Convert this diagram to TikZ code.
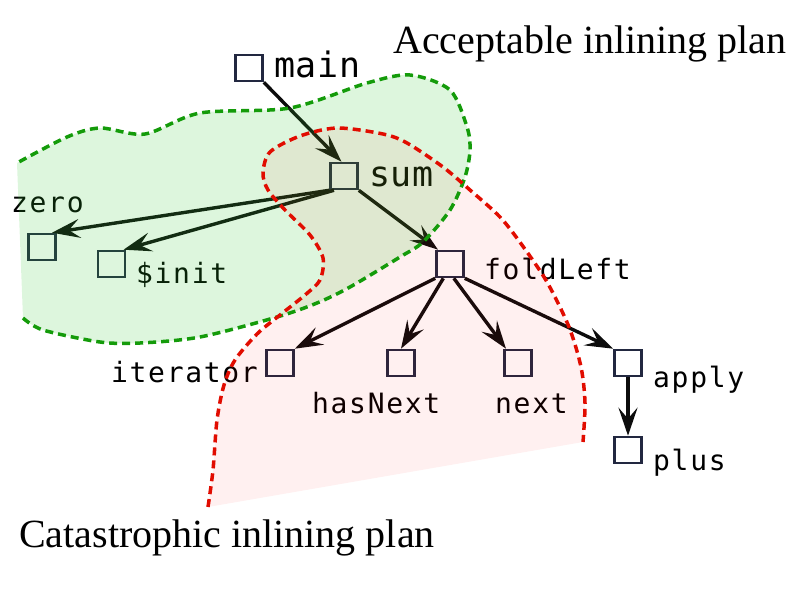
\documentclass[tikz,border=0pt]{standalone}
\usepackage{fontspec}
\setmainfont{Liberation Serif}
\newfontfamily\monofnt[LetterSpace=6]{DejaVu Sans Mono}
\newfontfamily\monobig[LetterSpace=2]{DejaVu Sans Mono}
\usetikzlibrary{arrows.meta}
\definecolor{boxcol}{RGB}{34,40,64}
\definecolor{arrowcol}{RGB}{12,12,12}
\definecolor{greenline}{RGB}{20,155,10}
\definecolor{redline}{RGB}{225,12,0}
\definecolor{greenfill}{RGB}{51,204,51}
\definecolor{redfill}{RGB}{255,0,0}
\tikzset{
  fnode/.style={draw=boxcol, line width=2.6pt, minimum width=27pt, minimum height=26pt, inner sep=0pt},
  lbl/.style={anchor=base west, inner sep=0pt, font=\monofnt\fontsize{28}{30}\selectfont},
  biglbl/.style={anchor=base west, inner sep=0pt, font=\monobig\fontsize{35}{40}\selectfont},
  conn/.style={line width=3.4pt, draw=arrowcol, -{Stealth[length=28pt,width=19pt,inset=11pt]}},
  titletext/.style={anchor=base west, inner sep=0pt, font=\fontsize{40}{48}\selectfont},
  region/.style={line width=3.5pt, dash pattern=on 8pt off 5pt}}
\begin{document}
\begin{tikzpicture}[x=1pt,y=-1pt]
\useasboundingbox (0,0) rectangle (800,600);
% boxes
\node[fnode] (main) at (249,68) {};
\node[fnode] (sum) at (344,176) {};
\node[fnode] (zero) at (42,247) {};
\node[fnode] (init) at (111.5,264) {};
\node[fnode] (fold) at (450,264) {};
\node[fnode] (iter) at (280,363) {};
\node[fnode] (has) at (401,363) {};
\node[fnode] (next) at (518,363) {};
\node[fnode] (apply) at (628,363) {};
\node[fnode] (plus) at (628,450) {};
% labels
\node[biglbl] (mainl) at (274,77) {main};
\node[biglbl] (suml) at (369,186) {sum};
\node[lbl] (zerol) at (11,212) {zero};
\node[lbl] (initl) at (136,283) {\$init};
\node[lbl] (foldl) at (484,279) {foldLeft};
\node[lbl, anchor=base east] (iterl) at (258,382) {iterator};
\node[lbl] (hasl) at (312,413) {hasNext};
\node[lbl] (nextl) at (495,413) {next};
\node[lbl] (applyl) at (653,387) {apply};
\node[lbl] (plusl) at (653,470) {plus};
% titles
\node[titletext] (acc) at (393,53) {Acceptable inlining plan};
\node[titletext] (cat) at (19,547) {Catastrophic inlining plan};
% connectors
\draw[conn] (main.south east) -- (sum.100);
\draw[conn] (sum.south west) -- (zero.55);
\draw[conn] (sum.-125) -- (init.50);
\draw[conn] (sum.south east) -- (fold.130);
\draw[conn] (fold.south west) -- (iter.north east);
\draw[conn] (fold.-115) -- (has.north);
\draw[conn] (fold.-75) -- (next.130);
\draw[conn] (fold.south east) -- (apply.north west);
\draw[conn] (apply.south) -- (plus.north);
% regions
\fill[greenfill, fill opacity=0.17] plot[smooth] coordinates {(23,318) (43,330) (100,342) (140,343) (200,337) (277,317) (317,303) (350,287) (400,257) (423,242) (450,210) (465,177) (470,150) (467,127) (450,90) (410,75) (367,83) (290,108) (200,113) (145,134) (100,128) (67,137) (17,163)} -- cycle;
\fill[redfill, fill opacity=0.06] plot[smooth] coordinates {(208,507) (213,470) (217,420) (224,385) (235,360) (257,334) (280,315) (305,295) (320,280) (323,258) (310,235) (285,210) (268,190) (263,173) (270,152) (300,136) (337,128) (383,134) (407,143) (443,167) (470,190) (500,217) (522,245) (547,282) (569,327) (581,367) (585,403) (583,442)} -- cycle;
\draw[region, greenline] plot[smooth] coordinates {(23,318) (43,330) (100,342) (140,343) (200,337) (277,317) (317,303) (350,287) (400,257) (423,242) (450,210) (465,177) (470,150) (467,127) (450,90) (410,75) (367,83) (290,108) (200,113) (145,134) (100,128) (67,137) (17,163)};
\draw[region, redline] plot[smooth] coordinates {(208,507) (213,470) (217,420) (224,385) (235,360) (257,334) (280,315) (305,295) (320,280) (323,258) (310,235) (285,210) (268,190) (263,173) (270,152) (300,136) (337,128) (383,134) (407,143) (443,167) (470,190) (500,217) (522,245) (547,282) (569,327) (581,367) (585,403) (583,442)};
\end{tikzpicture}
\end{document}
